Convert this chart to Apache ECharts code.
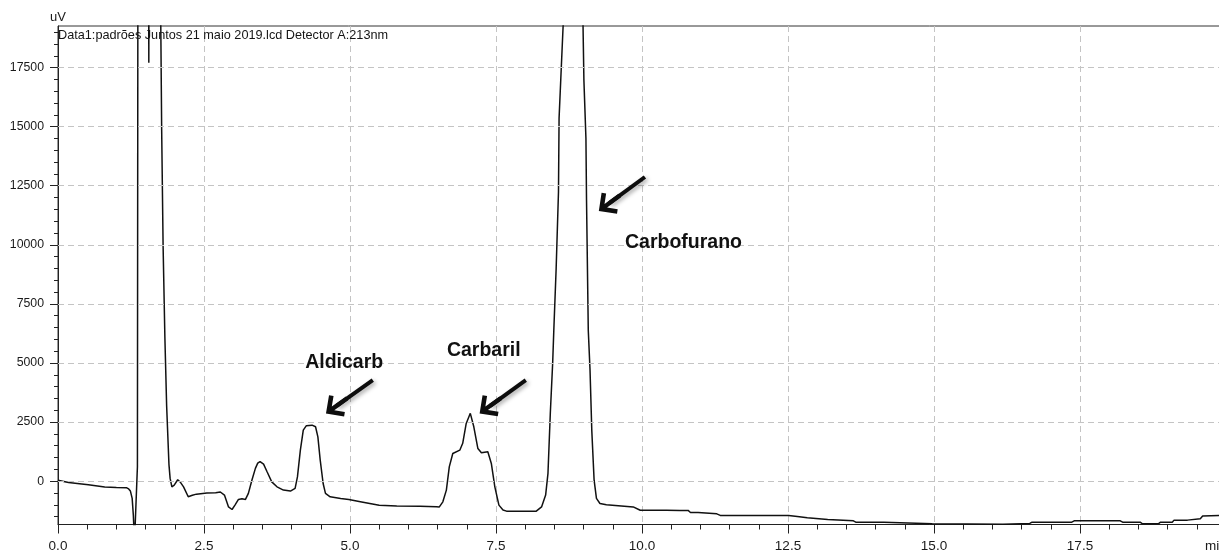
<!DOCTYPE html>
<html>
<head>
<meta charset="utf-8">
<title>Cromatograma - padrões juntos</title>
<script src="https://cdn.jsdelivr.net/npm/echarts@6/dist/echarts.min.js"></script>
<style>
  html, body { margin: 0; padding: 0; background: #fff; }
  #chart { width: 1219px; height: 553px; }
</style>
</head>
<body>
<div id="chart"></div>
<script>
// Retention time (min) and detector signal (uV) of the chromatogram trace
const timeMin = [
  0.00, 0.18, 0.52, 0.80, 1.00, 1.17, 1.21, 1.24, 1.27, 1.29, 1.31, 1.34, 1.355, 1.36, 1.375,
  1.54, 1.555, 1.57, 1.74, 1.76, 1.775, 1.80, 1.83, 1.86, 1.90, 1.92, 1.95, 1.99, 2.05, 2.07,
  2.10, 2.15, 2.23, 2.30, 2.37, 2.55, 2.70, 2.78, 2.85, 2.92, 2.98, 3.03, 3.09, 3.15, 3.21,
  3.26, 3.32, 3.38, 3.42, 3.46, 3.52, 3.58, 3.66, 3.75, 3.86, 3.98, 4.06, 4.10, 4.15, 4.20,
  4.25, 4.35, 4.41, 4.45, 4.49, 4.54, 4.58, 4.66, 4.84, 4.98, 5.20, 5.50, 5.80, 6.20, 6.48,
  6.53, 6.59, 6.65, 6.70, 6.76, 6.88, 6.93, 6.99, 7.06, 7.12, 7.19, 7.25, 7.36, 7.42, 7.48,
  7.55, 7.62, 7.68, 8.19, 8.28, 8.35, 8.39, 8.43, 8.47, 8.49, 8.53, 8.57, 8.58, 8.61, 8.65,
  8.70, 8.82, 8.94, 8.99, 9.005, 9.04, 9.05, 9.08, 9.11, 9.14, 9.18, 9.22, 9.28, 9.39, 9.85,
  9.97, 10.42, 10.65, 10.79, 10.83, 10.96, 10.98, 11.28, 11.34, 12.51, 12.53, 12.66, 12.68, 12.83, 12.85,
  13.18, 13.19, 13.62, 13.66, 14.14, 14.17, 14.97, 15.00, 16.18, 16.21, 16.64, 16.68, 17.36, 17.40, 18.19,
  18.23, 18.53, 18.57, 18.84, 18.88, 19.08, 19.11, 19.34, 19.37, 19.56, 19.60, 20.00
];
const signalUV = [
  40, -60, -155, -250, -265, -275, -330, -420, -730, -1440, -2600, -2600, 300, 605, 40000,
  40000, 17700, 40000, 40000, 19300, 14900, 9900, 6100, 3200, 700, 115, -240, -170, 60, 85,
  -60, -240, -660, -600, -550, -500, -490, -460, -590, -1090, -1200, -1015, -775, -750, -775,
  -520, 40, 540, 760, 830, 720, 395, -30, -240, -380, -420, -310, 180, 1310, 2160,
  2340, 2370, 2300, 1875, 890, -100, -520, -665, -735, -780, -880, -1020, -1050, -1060, -1085,
  -1090, -875, -380, 605, 1170, 1310, 1600, 2440, 2870, 2300, 1380, 1200, 1240, 750, -240,
  -1015, -1220, -1270, -1270, -1090, -590, 330, 2870, 4980, 6390, 9000, 12250, 15360, 17050, 19300,
  24000, 28000, 24000, 19300, 16980, 14510, 11900, 6390, 4700, 2160, 40, -730, -945, -1000, -1090,
  -1230, -1230, -1240, -1240, -1325, -1325, -1385, -1385, -1450, -1450, -1495, -1495, -1550, -1550, -1620,
  -1620, -1680, -1680, -1735, -1735, -1790, -1800, -1825, -1825, -1790, -1790, -1735, -1735, -1680, -1680,
  -1735, -1735, -1805, -1805, -1735, -1735, -1650, -1650, -1595, -1595, -1480, -1440
];

// Axis ticks
const xTicks = [0, 2.5, 5, 7.5, 10, 12.5, 15, 17.5];
const yTicks = [0, 2500, 5000, 7500, 10000, 12500, 15000, 17500];
const yMinorTicks = [
  -1500, -1000, -500, 500, 1000, 1500, 2000, 3000, 3500, 4000, 4500, 5500, 6000, 6500, 7000,
  8000, 8500, 9000, 9500, 10500, 11000, 11500, 12000, 13000, 13500, 14000, 14500,
  15500, 16000, 16500, 17000, 18000, 18500, 19000
];
const Y_MIN = -1835;
const Y_MAX = 19260;

// Compound names and where their labels sit (min, uV)
const compoundNames = ['Aldicarb', 'Carbaril', 'Carbofurano'];
const labelTime = [4.90, 7.29, 10.71];
const labelUV = [5000, 5520, 10080];

// Pointer arrows: tail -> arrowhead centre (min, uV)
const arrowTailTime = [5.39, 8.01, 10.05];
const arrowTailUV = [4276, 4276, 12870];
const arrowHeadTime = [4.77, 7.40, 9.44];
const arrowHeadUV = [3185, 3188, 11760];

const FONT = 'Liberation Sans, Arial, sans-serif';
const AXIS_COLOR = '#222';
const TEXT_COLOR = '#1a1a1a';
const GRID_LINE = { color: '#c4c4c4', width: 1, type: [6, 4] };
// open chevron arrowhead with a short shaft stub, tip pointing up, square 24x24 box
const CHEVRON = 'path://M0,0 L12,12 L9,15 L2,8 L2,24 L-2,24 L-2,8 L-9,15 L-12,12 Z';
const ARROW_SHADOW = {
  shadowColor: 'rgba(0,0,0,0.35)', shadowBlur: 4, shadowOffsetX: 2, shadowOffsetY: 2
};

const trace = timeMin.map((t, i) => [t, signalUV[i]]);

const chart = echarts.init(document.getElementById('chart'), null, { renderer: 'canvas' });

chart.setOption({
  animation: false,
  backgroundColor: '#ffffff',
  title: {
    text: 'Data1:padrões Juntos 21 maio 2019.lcd Detector A:213nm',
    left: 58,
    top: 29,
    padding: 0,
    textStyle: { fontFamily: FONT, fontSize: 12.7, fontWeight: 'normal', color: '#141414' }
  },
  grid: {
    left: 58,
    top: 26,
    width: 1168,
    bottom: 28.5,
    outerBoundsMode: 'none',
    containLabel: false,
    show: true,
    borderColor: '#333',
    borderWidth: 1,
    backgroundColor: 'transparent'
  },
  xAxis: {
    type: 'value',
    min: 0,
    max: 20,
    interval: 2.5,
    name: 'min',
    nameLocation: 'end',
    nameGap: -21,
    nameTextStyle: {
      fontFamily: FONT, fontSize: 13.5, color: TEXT_COLOR,
      align: 'left', verticalAlign: 'top', padding: [15, 0, 0, 0]
    },
    axisLine: { show: true, onZero: false, lineStyle: { color: AXIS_COLOR, width: 1 } },
    axisTick: { show: true, length: 9, lineStyle: { color: AXIS_COLOR } },
    minorTick: { show: true, splitNumber: 5, length: 5, lineStyle: { color: AXIS_COLOR } },
    axisLabel: {
      margin: 15,
      fontFamily: FONT, fontSize: 13.5, color: TEXT_COLOR,
      showMaxLabel: false,
      formatter: v => (xTicks.indexOf(v) >= 0 ? v.toFixed(1) : '')
    },
    splitLine: { show: true, lineStyle: GRID_LINE }
  },
  yAxis: [{
    // labelled axis: major ticks and values
    type: 'value',
    min: Y_MIN,
    max: Y_MAX,
    name: 'uV',
    nameLocation: 'end',
    nameGap: 2,
    nameTextStyle: { fontFamily: FONT, fontSize: 13, color: TEXT_COLOR, align: 'center' },
    axisLine: { show: true, onZero: false, lineStyle: { color: AXIS_COLOR, width: 1 } },
    axisTick: { show: true, length: 8, customValues: yTicks, lineStyle: { color: AXIS_COLOR } },
    minorTick: { show: false },
    axisLabel: {
      margin: 14,
      customValues: yTicks,
      fontFamily: FONT, fontSize: 12.3, color: TEXT_COLOR,
      formatter: v => String(v)
    },
    splitLine: { show: false }
  }, {
    // companion axis carrying the short minor ticks
    type: 'value',
    position: 'left',
    min: Y_MIN,
    max: Y_MAX,
    axisLine: { show: false },
    axisTick: { show: true, length: 4, customValues: yMinorTicks, lineStyle: { color: AXIS_COLOR } },
    minorTick: { show: false },
    axisLabel: { show: false },
    splitLine: { show: false }
  }],
  series: [{
    // horizontal dashed grid lines at the labelled values
    type: 'line',
    data: [],
    silent: true,
    z: 1,
    markLine: {
      silent: true,
      symbol: ['none', 'none'],
      label: { show: false },
      lineStyle: GRID_LINE,
      data: yTicks.map(v => ({ yAxis: v }))
    }
  }, {
    type: 'line',
    data: trace,
    showSymbol: false,
    symbol: 'none',
    clip: true,
    lineStyle: { color: '#111', width: 1.5 },
    z: 3,
    markLine: {
      silent: true,
      symbol: ['none', CHEVRON],
      symbolSize: 26,
      label: { show: false },
      lineStyle: Object.assign({ color: '#0d0d0d', width: 4, type: 'solid' }, ARROW_SHADOW),
      itemStyle: Object.assign({ color: '#0d0d0d' }, ARROW_SHADOW),
      data: arrowTailTime.map((t, i) => [
        { coord: [t, arrowTailUV[i]] },
        { coord: [arrowHeadTime[i], arrowHeadUV[i]] }
      ])
    },
    markPoint: {
      silent: true,
      symbol: 'rect',
      symbolSize: 0,
      label: {
        show: true,
        position: 'inside',
        formatter: '{b}',
        fontFamily: FONT,
        fontSize: 19.5,
        fontWeight: 'bold',
        color: '#111'
      },
      data: compoundNames.map((n, i) => ({ name: n, coord: [labelTime[i], labelUV[i]] }))
    }
  }]
});
</script>
</body>
</html>
